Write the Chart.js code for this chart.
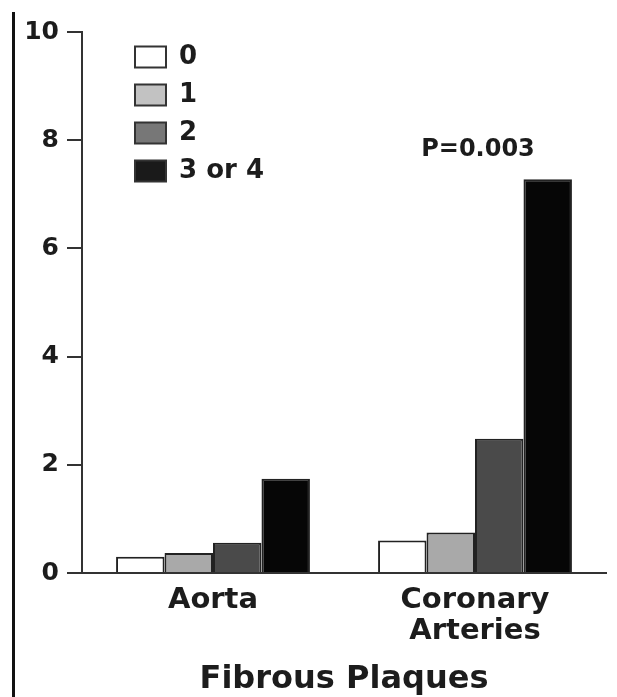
<!DOCTYPE html>
<html>
<head>
<meta charset="utf-8">
<script src="https://cdn.jsdelivr.net/npm/chart.js@4"></script>
<style>
  html, body { margin: 0; padding: 0; background: #fff; }
  #wrap { position: relative; width: 617px; height: 697px; }
  #edge { position: absolute; left: 12px; top: 12px; width: 3px; height: 685px; background: #111; }
</style>
</head>
<body>
<div id="wrap">
  <div id="edge"></div>
  <canvas id="chart" width="617" height="697"></canvas>
</div>
<script>
const categories = ["Aorta", ["Coronary", "Arteries"]];
const seriesLabels = ["0", "1", "2", "3 or 4"];
const score0 = [0.30, 0.60];
const score1 = [0.37, 0.75];
const score2 = [0.56, 2.48];
const score3 = [1.74, 7.28];
const yTicks = [0, 2, 4, 6, 8, 10];
const pLabel = "P=0.003";

const fills = ["#ffffff", "#a9a9a9", "#4a4a4a", "#060606"];
const legendFills = ["#ffffff", "#c2c2c2", "#777777", "#1a1a1a"];
const font = "'DejaVu Sans', Verdana, sans-serif";

// legend sits inside the plot, top left
const legendSpot = {
  id: "legendSpot",
  afterLayout(chart) {
    chart.legend.left = 123;
    chart.legend.top = 32;
  }
};

const pNote = {
  id: "pNote",
  afterDatasetsDraw(chart) {
    const { ctx, scales } = chart;
    ctx.save();
    ctx.font = "bold 24px " + font;
    ctx.fillStyle = "#1c1c1c";
    ctx.textAlign = "center";
    ctx.textBaseline = "middle";
    ctx.fillText(pLabel, scales.x.getPixelForValue(1) + 3, scales.y.getPixelForValue(7.82));
    ctx.restore();
  }
};

const data = [score0, score1, score2, score3];

new Chart(document.getElementById("chart"), {
  type: "bar",
  data: {
    labels: categories,
    datasets: data.map((d, i) => ({
      label: seriesLabels[i],
      data: d,
      backgroundColor: fills[i],
      borderColor: "#222",
      borderWidth: 2,
      barPercentage: 1,
      categoryPercentage: 0.74
    }))
  },
  options: {
    responsive: false,
    animation: false,
    layout: { padding: { top: 32, right: 11, left: 0, bottom: 0 } },
    plugins: {
      tooltip: { enabled: false },
      legend: {
        position: "chartArea",
        align: "start",
        labels: {
          font: { family: font, size: 26, weight: "bold" },
          color: "#1c1c1c",
          boxWidth: 31,
          boxHeight: 21,
          padding: 12,
          generateLabels(chart) {
            return Chart.defaults.plugins.legend.labels.generateLabels(chart).map((item, i) => {
              item.fillStyle = legendFills[i];
              item.strokeStyle = "#333";
              return item;
            });
          }
        }
      }
    },
    scales: {
      x: {
        grid: { display: false, drawTicks: false },
        border: { display: true, color: "#333", width: 2 },
        ticks: {
          font: { family: font, size: 29, weight: "bold", lineHeight: 1.07 },
          color: "#1c1c1c",
          padding: 12,
          maxRotation: 0
        },
        title: {
          display: true,
          text: "Fibrous Plaques",
          font: { family: font, size: 32, weight: "bold", lineHeight: 1 },
          color: "#1c1c1c",
          padding: { top: 10, bottom: 1 }
        },
        afterFit(scale) { scale.height = 124; }
      },
      y: {
        min: 0,
        max: 10,
        afterBuildTicks(scale) { scale.ticks = yTicks.map(v => ({ value: v })); },
        grid: { display: true, drawOnChartArea: false, drawTicks: true, tickLength: 15, color: "#333", lineWidth: 2 },
        border: { display: true, color: "#333", width: 2 },
        ticks: {
          font: { family: font, size: 25, weight: "bold" },
          color: "#1c1c1c",
          padding: 8
        },
        afterFit(scale) { scale.width = 82; }
      }
    }
  },
  plugins: [legendSpot, pNote]
});
</script>
</body>
</html>
